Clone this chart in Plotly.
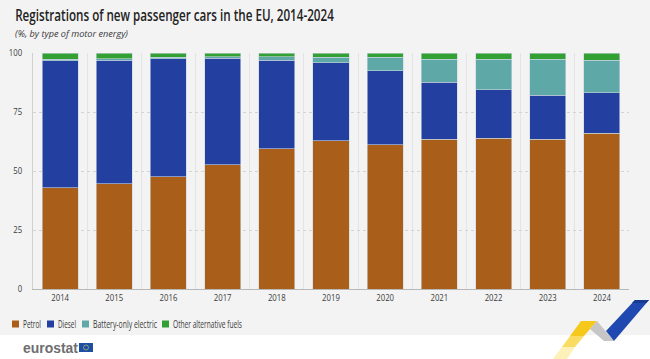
import plotly.graph_objects as go

years = ["2014","2015","2016","2017","2018","2019","2020","2021","2022","2023","2024"]
petrol = [43.0,44.7,47.6,52.6,59.5,62.8,61.2,63.5,63.8,63.5,66.0]
diesel = [53.8,52.3,50.0,45.2,37.4,33.1,31.3,24.2,20.7,18.7,17.2]
electric = [0.6,0.6,0.6,0.7,1.6,2.2,5.7,9.6,12.9,15.2,13.7]
other = [2.6,2.4,1.8,1.5,1.5,1.9,1.8,2.7,2.6,2.6,3.1]
names = ["Petrol","Diesel","Battery-only electric","Other alternative fuels"]
colors = ["#a95f1a","#2340a0","#5fa8a8","#33a033"]
series = [petrol,diesel,electric,other]
legend_x = [12,47,82,162]
W,H = 650,359
FONT = "Open Sans"
TXT = "#3a3a3a"

fig = go.Figure()
for n,c,v in zip(names,colors,series):
    fig.add_bar(x=years,y=v,name=n,marker=dict(color=c,line=dict(color="#c9d6e0",width=0.6)),width=0.665,showlegend=False)

L,R,T,B = 33,21,53,70
pw,ph = W-L-R,H-T-B
def sx(x): return (x-L)/pw
def sy(y): return (H-B-y)/ph
def poly(pts,color):
    d = "M "+" L ".join(f"{sx(a):.5f},{sy(b):.5f}" for a,b in pts)+" Z"
    return dict(type="path",xref="paper",yref="paper",path=d,fillcolor=color,line_width=0,layer="above")
shapes = [dict(type="rect",xref="paper",yref="paper",x0=sx(0),x1=sx(W),y0=sy(335),y1=sy(0),fillcolor="#f3f3f3",line_width=0,layer="below")]
ann = []
for n,c,x in zip(names,colors,legend_x):
    shapes.append(dict(type="rect",xref="paper",yref="paper",x0=sx(x),x1=sx(x+7),y0=sy(327.5),y1=sy(320.5),fillcolor=c,line_width=0))
    ann.append(dict(xref="paper",yref="paper",x=sx(x+10),y=sy(324),text=n,showarrow=False,xanchor="left",yanchor="middle",xshift=-1,font=dict(family=FONT,size=10.5,color=TXT)))
shapes += [
 poly([(553,359),(562,347),(575,347),(567,359)],"#fdf0b8"),
 poly([(562,347),(570,336),(584,336),(575,347)],"#fbdc62"),
 poly([(570,336),(581,321),(597,321),(584,336)],"#f7c81c"),
 poly([(590,329),(597,321),(614,341),(604,341)],"#c6c6c6"),
 poly([(606,331),(635,300),(649,300),(614,341)],"#1f48b0"),
 poly([(635,300),(649,300),(646,303),(632,303)],"#163a90"),
]
shapes += [
 dict(type="rect",xref="paper",yref="paper",x0=sx(79),x1=sx(93),y0=sy(352),y1=sy(343),fillcolor="#1f4fa3",line_width=0),
 dict(type="circle",xref="paper",yref="paper",x0=sx(83.5),x1=sx(88.5),y0=sy(350),y1=sy(345),fillcolor="rgba(0,0,0,0)",line=dict(color="#b9bf6a",width=0.7)),
]
ann += [
 dict(xref="paper",yref="paper",x=sx(13),y=sy(15),text="Registrations of new passenger cars in the EU, 2014-2024",showarrow=False,xanchor="left",yanchor="middle",font=dict(family=FONT,size=16,weight=600,color="#222222")),
 dict(xref="paper",yref="paper",x=sx(13),y=sy(33),text="(%, by type of motor energy)",showarrow=False,xanchor="left",yanchor="middle",font=dict(family=FONT,size=9.5,style="italic",color=TXT)),
 dict(xref="paper",yref="paper",x=sx(21),y=sy(347.5),text="eurostat",showarrow=False,xanchor="left",yanchor="middle",font=dict(family="Liberation Sans",size=15,weight=700,color="#6e6e70")),
]
fig.update_layout(
    width=W,height=H,margin=dict(l=L,r=R,t=T,b=B,autoexpand=False),barmode="stack",
    paper_bgcolor="white",plot_bgcolor="rgba(0,0,0,0)",
    shapes=shapes,annotations=ann,showlegend=False,
    font=dict(family=FONT,size=10,color=TXT),
    xaxis=dict(automargin=False,tickson="boundaries",ticks="",showgrid=True,gridcolor="#e4e4e4",gridwidth=1,showline=True,linecolor="#b8b8b8",tickfont=dict(size=9.5),layer="below traces"),
    yaxis=dict(automargin=False,range=[0,100],tickvals=[0,25,50,75,100],showgrid=True,gridcolor="#d4d4d4",griddash="dot",gridwidth=1,zeroline=False,showline=True,linecolor="#d0d0d0",ticks="",ticklabelstandoff=8,tickfont=dict(size=9.5),layer="below traces"),
)
post = """
document.body.style.margin='0';
var cfg={'Registrations of new':319,'(%, by type':113,'Petrol':18,'Diesel':18,'Battery-only':64,'Other alt':69,'eurostat':55};
document.querySelectorAll('svg text').forEach(function(t){
  var s=t.textContent, w=null, X=null, old=t.getComputedTextLength(), bb=t.getBBox();
  Object.keys(cfg).forEach(function(k){ if(s.indexOf(k)===0){ w=cfg[k]; X=bb.x; } });
  if(/^(20\\d\\d|0|25|50|75|100)$/.test(s)){ w=old*0.82; X=/^20/.test(s)?bb.x+bb.width/2:bb.x+bb.width; }
  if(w){
    var k=w/old, tr=t.getAttribute('transform')||'';
    t.setAttribute('transform',tr+' translate('+X+',0) scale('+k+',1) translate('+(-X)+',0)');
  }
});
"""
fig.write_html("out.html",post_script=post,config=dict(displayModeBar=False))
